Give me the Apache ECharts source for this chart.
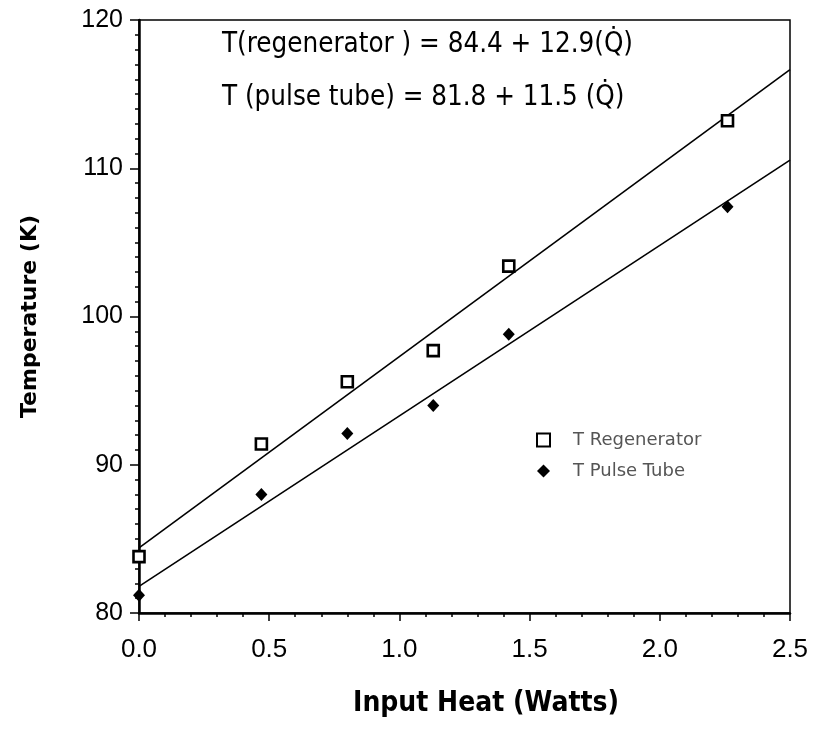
<!DOCTYPE html>
<html>
<head>
<meta charset="utf-8">
<script src="https://cdn.jsdelivr.net/npm/echarts@6/dist/echarts.min.js"></script>
<style>
  html, body { margin: 0; padding: 0; background: #fff; }
  #chart { width: 814px; height: 744px; }
</style>
</head>
<body>
<div id="chart"></div>
<script>
// Measured input heat (W) and steady-state temperatures (K)
const inputHeat = [0, 0.47, 0.8, 1.13, 1.42, 2.26];
const tRegenerator = [83.8, 91.4, 95.6, 97.7, 103.4, 113.2];
const tPulseTube = [81.2, 88.0, 92.1, 94.0, 98.8, 107.4];

// Linear fits: [intercept, slope]
const regenFit = [84.4, 12.9];
const pulseFit = [81.8, 11.5];
const fitRange = [0, 2.5];

const xTicks = ['0.0', '0.5', '1.0', '1.5', '2.0', '2.5'];
const eqRegen = 'T(regenerator ) = 84.4 + 12.9(Q\u0307)';
const eqPulse = 'T (pulse tube) = 81.8 + 11.5 (Q\u0307)';
const xTitle = 'Input Heat (Watts)';

function pairs(xs, ys) { return xs.map((x, i) => [x, ys[i]]); }
function fitLine(fit) { return fitRange.map(x => [x, fit[0] + fit[1] * x]); }

const narrow = "'Liberation Sans Narrow', 'DejaVu Sans Condensed', 'Liberation Sans', sans-serif";

const chart = echarts.init(document.getElementById('chart'));
chart.setOption({
  animation: false,
  backgroundColor: '#fff',
  grid: {
    left: 139, right: 24, top: 20, bottom: 131,
    show: true, borderColor: '#000', borderWidth: 1.5
  },
  xAxis: {
    type: 'value', min: 0, max: 2.5, interval: 0.5,
    axisLine: { lineStyle: { color: '#000', width: 2.5 } },
    axisTick: { show: true, inside: false, length: 8, lineStyle: { color: '#000', width: 1.5 } },
    minorTick: { show: true, splitNumber: 5, length: 4, lineStyle: { color: '#000', width: 1.5 } },
    splitLine: { show: false },
    axisLabel: {
      margin: 24, fontFamily: "'Liberation Sans', sans-serif", fontSize: 26, color: '#000',
      formatter: (v) => xTicks[Math.round(v / 0.5)]
    }
  },
  yAxis: {
    type: 'value', min: 80, max: 120, interval: 10,
    name: 'Temperature (K)', nameLocation: 'middle', nameGap: 98,
    nameTextStyle: { fontFamily: "'DejaVu Sans', sans-serif", fontSize: 22, fontWeight: 'bold', color: '#000' },
    axisLine: { lineStyle: { color: '#000', width: 2.5 } },
    axisTick: { show: true, inside: false, length: 9, lineStyle: { color: '#000', width: 1.5 } },
    minorTick: { show: true, splitNumber: 10, length: 4, lineStyle: { color: '#000', width: 1.5 } },
    splitLine: { show: false },
    axisLabel: { margin: 16, fontFamily: "'Liberation Sans', sans-serif", fontSize: 25, color: '#000' }
  },
  legend: {
    orient: 'vertical', left: 531, top: 426, itemGap: 13,
    itemWidth: 13, itemHeight: 13,
    data: ['T Regenerator', 'T Pulse Tube'],
    textStyle: { fontFamily: "'DejaVu Sans', sans-serif", fontSize: 18, color: '#555', padding: [0, 0, 0, 18] }
  },
  graphic: [
    { type: 'text', left: 222, top: 31,
      style: { text: eqRegen, font: "27.5px " + narrow, fill: '#000' } },
    { type: 'text', left: 222, top: 84,
      style: { text: eqPulse, font: "27.5px " + narrow, fill: '#000' } },
    { type: 'text', x: 486, y: 704,
      style: { text: xTitle, font: "bold 28px " + narrow, fill: '#000',
               textAlign: 'center', textVerticalAlign: 'middle' } }
  ],
  series: [
    {
      name: 'Regenerator fit', type: 'line', data: fitLine(regenFit),
      symbol: 'none', lineStyle: { color: '#000', width: 1.6 }, z: 2
    },
    {
      name: 'Pulse tube fit', type: 'line', data: fitLine(pulseFit),
      symbol: 'none', lineStyle: { color: '#000', width: 1.6 }, z: 2
    },
    {
      name: 'T Regenerator', type: 'scatter', data: pairs(inputHeat, tRegenerator),
      symbol: 'rect', symbolSize: 11,
      itemStyle: { color: '#fff', borderColor: '#000', borderWidth: 2.6, opacity: 1 }, z: 3
    },
    {
      name: 'T Pulse Tube', type: 'scatter', data: pairs(inputHeat, tPulseTube),
      symbol: 'diamond', symbolSize: [12, 13],
      itemStyle: { color: '#000', opacity: 1 }, z: 3
    }
  ]
});
</script>
</body>
</html>
